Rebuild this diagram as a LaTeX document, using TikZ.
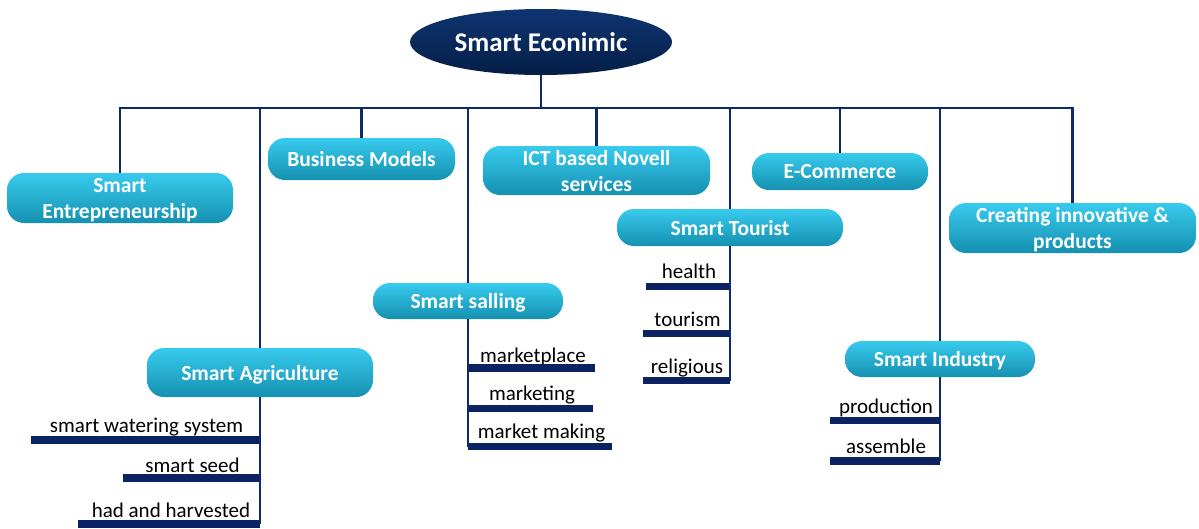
\documentclass[tikz,border=0pt]{standalone}
\usepackage{fontspec}
\setmainfont{Carlito}
\usetikzlibrary{shapes.geometric}
\definecolor{navy}{HTML}{0F2A6C}
\definecolor{barblue}{HTML}{0B2362}
\definecolor{roottop}{HTML}{0E3570}
\definecolor{rootbot}{HTML}{051E47}
\definecolor{boxtop}{HTML}{38CBEE}
\definecolor{boxbot}{HTML}{1590B0}
\tikzset{
  root/.style={ellipse, top color=roottop, bottom color=rootbot, text=white, inner sep=0pt,
    font=\fontsize{27}{30}\selectfont\bfseries},
  topic/.style={rounded corners=17pt, top color=boxtop, bottom color=boxbot, text=white,
    align=center, inner sep=0pt, text depth=0pt, font=\fontsize{21.5}{26}\selectfont\bfseries},
  leaf/.style={anchor=base, inner sep=0pt, font=\fontsize{21}{25}\selectfont},
  link/.style={draw=navy, line width=2.6pt},
  bar/.style={draw=barblue, line width=7.5pt}
}
\begin{document}
\begin{tikzpicture}[x=1pt, y=-1pt]
  \useasboundingbox (0,0) rectangle (1199,528);
  \node[root, minimum width=262, minimum height=66] (econ) at (541,42) {Smart Econimic};
  \node[topic, minimum width=226, minimum height=50] (entre) at (120,198) {Smart\\Entrepreneurship};
  \node[topic, minimum width=187, minimum height=42] (business) at (361.5,159) {Business Models};
  \node[topic, minimum width=227, minimum height=49] (ict) at (596.5,170.5) {ICT based Novell\\services};
  \node[topic, minimum width=176, minimum height=37] (ecom) at (840,171.5) {E-Commerce};
  \node[topic, minimum width=247, minimum height=50] (create) at (1072.5,228) {Creating innovative \&\\products};
  \node[topic, minimum width=226, minimum height=49] (agri) at (260,372.5) {Smart Agriculture};
  \node[topic, minimum width=190, minimum height=36] (salling) at (468,301) {Smart salling};
  \node[topic, minimum width=226, minimum height=37] (tourist) at (730,227.5) {Smart Tourist};
  \node[topic, minimum width=190, minimum height=36] (industry) at (940,359) {Smart Industry};
  \coordinate (bus) at (541,108);
  \draw[link] (econ.south) -- (bus);
  \draw[link] (entre.north) -- (entre.north |- bus) -- (create.north |- bus) -- (create.north);
  \foreach \n in {agri,business,salling,ict,tourist,ecom,industry}
    \draw[link] (\n.north |- bus) -- (\n.north);
  % leaves: name/text/text x/baseline/bar end x/bar y/trunk
  \foreach \nm/\txt/\tx/\ty/\bx/\by/\tr in {
      water/smart watering system/146.5/432/31/440/agri,
      seed/smart seed/192.5/472/123/478/agri,
      harvest/had and harvested/171/517/78/524/agri,
      place/marketplace/533/362/595/368/salling,
      mark/marketing/532/400/593/408.5/salling,
      making/market making/541.5/438/612/446.5/salling,
      health/health/689/278/646/286.5/tourist,
      tour/tourism/687.5/326/643/333.5/tourist,
      relig/religious/687/373/643/380.5/tourist,
      prod/production/886/413/830/420.5/industry,
      assem/assemble/886/453/830/461/industry}
  {
    \node[leaf] (\nm) at (\tx,\ty) {\txt};
    \coordinate (\nm-end) at (\bx,\by);
    \draw[bar] (\nm-end) -- (\nm-end -| \tr.south);
  }
  \draw[link] (agri.south) -- (harvest-end -| agri.south);
  \draw[link] (salling.south) -- (making-end -| salling.south);
  \draw[link] (tourist.south) -- (relig-end -| tourist.south);
  \draw[link] (industry.south) -- (assem-end -| industry.south);
\end{tikzpicture}
\end{document}
